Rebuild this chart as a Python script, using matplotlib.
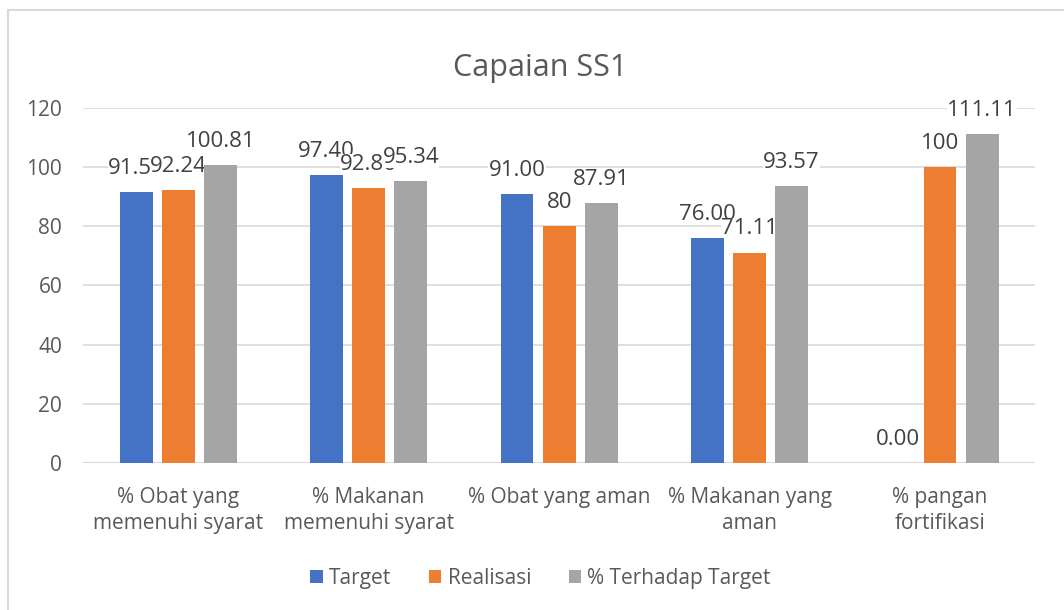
import numpy as np
import matplotlib.pyplot as plt
from matplotlib.lines import Line2D

plt.rcParams['font.family'] = ['Open Sans', 'DejaVu Sans']

categories = ["% Obat yang\nmemenuhi syarat", "% Makanan\nmemenuhi syarat",
              "% Obat yang aman", "% Makanan yang\naman", "% pangan\nfortifikasi"]
target = [91.50, 97.40, 91.00, 76.00, 0.00]
realisasi = [92.24, 92.86, 80, 71.11, 100]
persen = [100.81, 95.34, 87.91, 93.57, 111.11]
target_lbl = ["91.50", "97.40", "91.00", "76.00", "0.00"]
realisasi_lbl = ["92.24", "92.86", "80", "71.11", "100"]
persen_lbl = ["100.81", "95.34", "87.91", "93.57", "111.11"]

txt = '#595959'
fig = plt.figure(figsize=(10.64, 6.10), dpi=100)
ax = fig.add_axes([0.078, 0.241, 0.895, 0.582])

x = np.arange(len(categories))
w = 0.172
step = 0.221
series = [(target, target_lbl, '#4472C4', 'Target'),
          (realisasi, realisasi_lbl, '#ED7D31', 'Realisasi'),
          (persen, persen_lbl, '#A5A5A5', '% Terhadap Target')]

for i, (vals, lbls, col, name) in enumerate(series):
    pos = x + (i - 1) * step
    ax.bar(pos, vals, width=w, color=col, label=name, zorder=5)
    for p, v, l in zip(pos, vals, lbls):
        ax.annotate(l, (p, v), xytext=(0, 17), textcoords='offset points',
                    ha='center', va='center', fontsize=16, color='#404040',
                    bbox=dict(facecolor='white', edgecolor='none', pad=0.2),
                    zorder=4)

ax.set_xlim(-0.5, len(categories) - 0.5)
ax.set_ylim(0, 120)
ax.set_yticks(range(0, 121, 20))
ax.yaxis.grid(True, color='#D9D9D9', linewidth=1.2, zorder=0)
for s in ax.spines.values():
    s.set_visible(False)
ax.axhline(0, color='#D9D9D9', linewidth=1.5, zorder=2)
ax.tick_params(length=0, labelsize=15, colors=txt, pad=15)
ax.tick_params(axis='x', pad=17)
ax.set_xticks(x)
ax.set_xticklabels(categories, linespacing=1.35)

fig.text(0.508, 0.888, "Capaian SS1", ha='center', va='center', fontsize=22, color=txt)

handles, labels = ax.get_legend_handles_labels()
leg = fig.legend(handles, labels, loc='center', bbox_to_anchor=(0.508, 0.052), ncol=3,
                 frameon=False, fontsize=15, handlelength=0.6, handleheight=0.6,
                 columnspacing=1.8, handletextpad=0.3)
for t in leg.get_texts():
    t.set_color(txt)

# chart border (only left and top edges visible in the crop)
fig.add_artist(Line2D([0.0075, 0.0075], [0, 0.984], color='#D9D9D9', linewidth=1.5,
                      transform=fig.transFigure))
fig.add_artist(Line2D([0.0075, 1], [0.984, 0.984], color='#D9D9D9', linewidth=1.5,
                      transform=fig.transFigure))

fig.savefig('out.png', dpi=100)
